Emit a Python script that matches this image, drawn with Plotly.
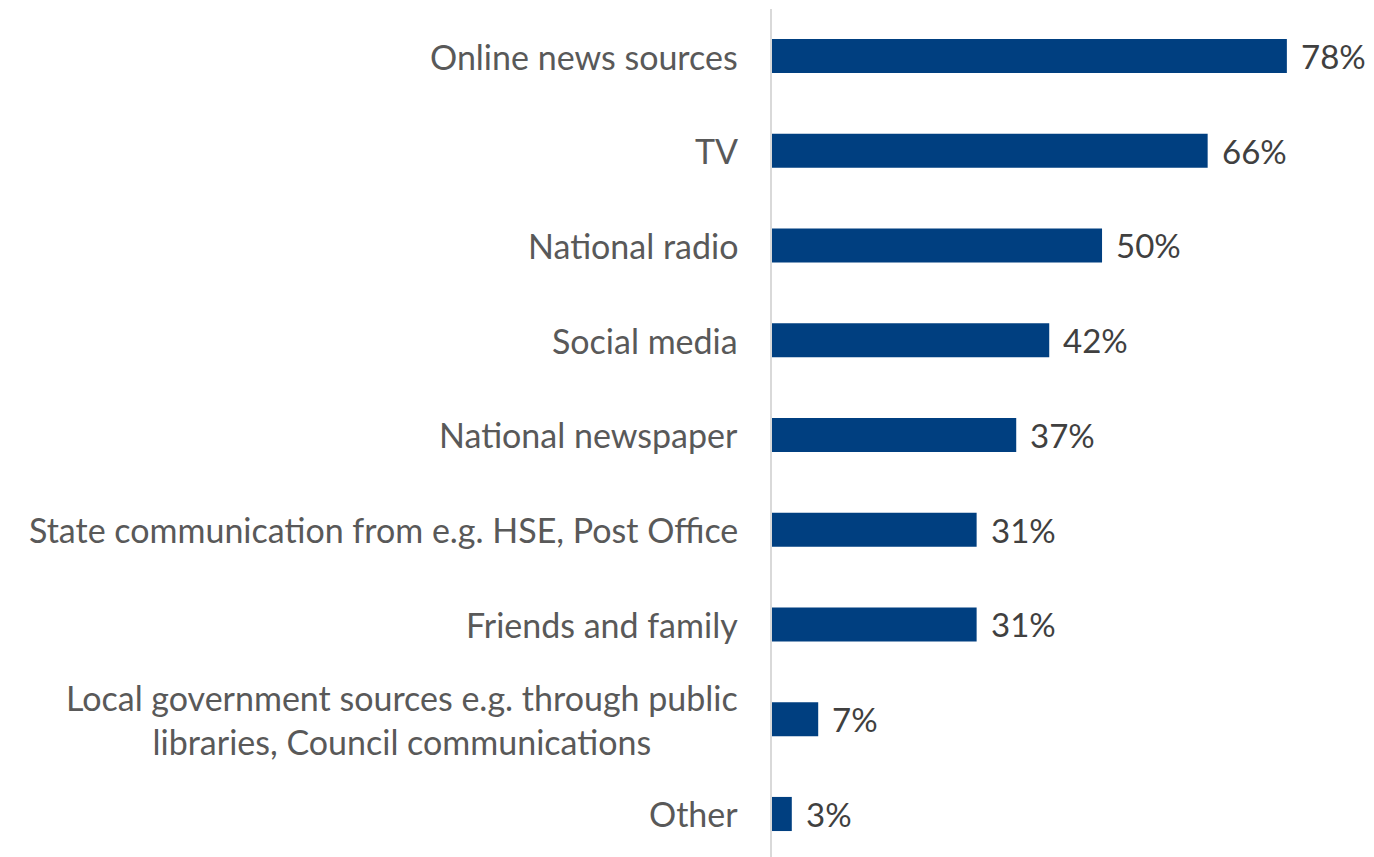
import plotly.graph_objects as go

# Information sources (share of respondents, %)
categories = [
    "Online news sources",
    "TV",
    "National radio",
    "Social media",
    "National newspaper",
    "State communication from e.g. HSE, Post Office",
    "Friends and family",
    "Local government sources e.g. through public<br>libraries, Council communications",
    "Other",
]
values = [78, 66, 50, 42, 37, 31, 31, 7, 3]
value_labels = ["78%", "66%", "50%", "42%", "37%", "31%", "31%", "7%", "3%"]

BAR_COLOR = "#003F80"
LABEL_COLOR = "#595959"
VALUE_COLOR = "#404040"
FONT = "Lato, 'Open Sans', sans-serif"

positions = list(range(len(categories)))

fig = go.Figure(
    go.Bar(
        x=values,
        y=positions,
        orientation="h",
        width=0.36,
        marker=dict(color=BAR_COLOR, line=dict(width=0)),
        hoverinfo="skip",
    )
)

# Category names, right-aligned against the axis, multi-line text centred
for pos, name in zip(positions, categories):
    fig.add_annotation(
        x=0, xref="x", y=pos, yref="y",
        text=name, showarrow=False,
        xanchor="right", yanchor="middle", align="center",
        xshift=-32,
        font=dict(family=FONT, size=34, color=LABEL_COLOR),
    )

# Value labels just past the end of each bar
for pos, v, lab in zip(positions, values, value_labels):
    fig.add_annotation(
        x=v, xref="x", y=pos, yref="y",
        text=lab, showarrow=False,
        xanchor="left", yanchor="middle",
        xshift=12,
        font=dict(family=FONT, size=33, color=VALUE_COLOR),
    )

fig.update_layout(
    width=1374,
    height=857,
    margin=dict(l=772, r=0, t=9, b=0),
    paper_bgcolor="white",
    plot_bgcolor="white",
    showlegend=False,
    xaxis=dict(
        range=[0, 91.2],
        showgrid=False,
        zeroline=False,
        showticklabels=False,
        showline=False,
        fixedrange=True,
    ),
    yaxis=dict(
        range=[8.454, -0.496],
        showgrid=False,
        zeroline=False,
        showticklabels=False,
        showline=True,
        linecolor="#D9D9D9",
        linewidth=2,
        mirror=False,
        fixedrange=True,
    ),
)

fig.write_html("out.html")
